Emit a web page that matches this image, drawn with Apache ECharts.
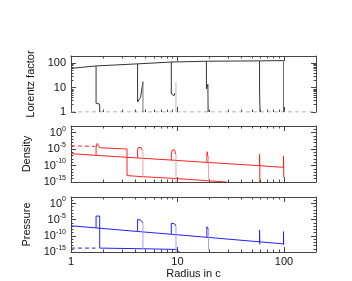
<!DOCTYPE html>
<html><head><meta charset="utf-8">
<script src="https://cdn.jsdelivr.net/npm/echarts@6/dist/echarts.min.js"></script>
<style>html,body{margin:0;padding:0;background:#fff}#c{width:352px;height:281px}</style>
</head><body><div id="c"></div>
<script>
// ---------- tick / label values ----------
const xMajorTicks = [1, 10, 100];
const xMinorTicks = [2,3,4,5,6,7,8,9,20,30,40,50,60,70,80,90,200];
const xLabels = [1, 10, 100];
const lorMajorTicks = [1, 10, 100];
const lorMinorTicks = [2,3,4,5,6,7,8,9,20,30,40,50,60,70,80,90,200];
const lorLabels = [1, 10, 100];
const expMajorTicks = [1e-15, 1e-10, 1e-5, 1];
const expMinorTicks = [1e-14,1e-13,1e-12,1e-11,1e-9,1e-8,1e-7,1e-6,1e-4,1e-3,1e-2,1e-1,10,100];
const expLabels = [1e-15, 1e-10, 1e-5, 1];

// ---------- Lorentz factor ----------
const lorTop    = [[1,62],[1.72,78],[4.22,95],[8.75,113],[18.9,122],[59,126],[99,130]];
const lorShell1 = [[1.72,78],[1.72,2.3],[1.86,2.1],[1.86,1]];
const lorShell2 = [[4.22,95],[4.22,2.6],[4.32,2.4],[4.5,4],[4.74,17.5]];
const lorShell2b= [[4.74,17.5],[4.74,1]];
const lorShell3 = [[8.75,113],[8.75,5.5],[9.3,4.7],[9.45,5.9]];
const lorShell3b= [[9.68,17.5],[9.68,1]];
const lorShell4 = [[18.7,122],[18.7,9],[19.3,13.8],[19.4,1]];
const lorShell5 = [[59,126],[59,8],[59.6,7],[59.6,1]];
const lorShell6 = [[99,130],[99,1]];
const lorFloor  = [[1,1],[200,1]];

// ---------- Density ----------
const denAmbient = [[1,4e-7],[1.72,1.26e-7],[4.22,2e-8],[8.75,4.5e-9],[18.9,9e-10],[59,9e-11],[99,2.8e-11]];
const denInitial = [[1,1e-4],[1.70,6.3e-5]];
const denShell1  = [[1.72,1.26e-7],[1.72,2.5e-5],[1.76,5e-4],[1.82,5e-4],[1.86,2.5e-5],[1.86,1.8e-5],[3.36,1e-5],[3.36,9e-14],[4.74,4e-14],[8.75,1.4e-14],[18.9,2.5e-15],[29,1e-15]];
const denShell2  = [[4.22,2e-8],[4.22,5e-6],[4.3,3.2e-5],[4.4,5e-5],[4.55,2.5e-5],[4.65,5e-6]];
const denShell2b = [[4.74,5e-6],[4.74,4e-14]];
const denShell3  = [[8.75,4.5e-9],[8.75,1.6e-7],[8.9,5e-6],[9.1,1e-5],[9.4,5e-6],[9.6,3e-7]];
const denShell3b = [[9.68,3e-7],[9.68,1e-15]];
const denShell4  = [[18.9,9e-10],[18.9,3.2e-8],[19.0,1.6e-6],[19.2,1e-7],[19.6,3.2e-8]];
const denShell4b = [[19.6,3.2e-8],[19.6,1e-15]];
const denShell5  = [[59,9e-11],[59,2.5e-7],[59.3,8e-11],[59.3,1e-15]];
const denShell6  = [[99,2.8e-11],[99,8e-8],[99.5,2.5e-11],[99.5,3e-14]];

// ---------- Pressure ----------
const preAmbient = [[1,1.26e-7],[1.72,2.8e-8],[4.22,2.2e-9],[8.75,3e-10],[18.9,3.5e-11],[59,1.4e-12],[99,3.2e-13]];
const preInitial = [[1,1.6e-14],[1.70,1.6e-14]];
const preShell1  = [[1.72,2.8e-8],[1.72,1.26e-4],[1.86,1.26e-4],[1.86,1.6e-14],[4.74,1e-14],[9.68,6.3e-15],[10.5,1e-15]];
const preShell2  = [[4.22,2.2e-9],[4.22,1.26e-5],[4.4,1.26e-5],[4.55,6e-6],[4.68,1.6e-6],[4.74,1e-6]];
const preShell2b = [[4.74,1e-6],[4.74,1e-14]];
const preShell3  = [[8.75,3e-10],[8.75,8e-7],[9.1,8e-7],[9.4,5e-7],[9.6,1.6e-7],[9.68,1e-7]];
const preShell3b = [[9.68,1e-7],[9.68,1e-15]];
const preShell4  = [[18.9,3.5e-11],[18.9,6.3e-8],[19.05,1.26e-7],[19.4,3.2e-8],[19.6,1e-8]];
const preShell4b = [[19.6,1e-8],[19.6,3e-15]];
const preShell5  = [[59,1.4e-12],[59,6.3e-9],[59.3,1.2e-12],[59.3,2e-13]];
const preShell6  = [[99,3.2e-13],[99,2e-9],[99.4,3e-13],[99.4,1.6e-13]];

// ---------- layout / style ----------
const FRAME = '#444';
const FONT = 'Liberation Sans, Arial, sans-serif';
const grids = [
  {left:71, top:56, width:245, height:56},
  {left:71, top:126, width:245, height:56},
  {left:71, top:197, width:245, height:55}
];
const yRanges = [[1,200],[1e-15,100],[1e-15,100]];
const yNames = ['Lorentz factor','Density','Pressure'];

function expFmt(v){
  const e = Math.round(Math.log10(v));
  return '{b|10}{s|' + e + '}';
}
const richExp = {
  b:{fontSize:11, fontFamily:FONT, color:'#111'},
  s:{fontSize:7, fontFamily:FONT, color:'#111', padding:[0,0,8,0]}
};

function mkAxis(dim, gi, pos, min, max, ticks, len, showLine, label){
  const a = {
    type:'log', logBase:10, gridIndex:gi, position:pos, min:min, max:max,
    splitLine:{show:false}, minorTick:{show:false}, minorSplitLine:{show:false},
    axisLine:{show:showLine, lineStyle:{color:FRAME, width:1}},
    axisTick:{show:true, inside:true, length:len, customValues:ticks, lineStyle:{color:FRAME, width:1}},
    axisLabel:{show:false}
  };
  if (label) Object.assign(a, label);
  return a;
}

const xAxes = [], yAxes = [];
for (let g = 0; g < 3; g++) {
  let xl = null;
  if (g === 2) {
    xl = {
      axisLabel:{show:true, customValues:xLabels, fontSize:11, fontFamily:FONT, color:'#111', margin:4,
                 formatter:v => String(Math.round(v))},
      name:'Radius in c', nameLocation:'middle', nameGap:16,
      nameTextStyle:{fontSize:11, fontFamily:FONT, color:'#111'}
    };
  }
  xAxes.push(mkAxis('x', g, 'bottom', 1, 200, xMajorTicks, 5, g !== 0, xl));
  xAxes.push(mkAxis('x', g, 'bottom', 1, 200, xMinorTicks, 2.5, false, null));
  xAxes.push(mkAxis('x', g, 'top', 1, 200, xMajorTicks, 5, true, null));
  xAxes.push(mkAxis('x', g, 'top', 1, 200, xMinorTicks, 2.5, false, null));

  const [mn, mx] = yRanges[g];
  const majors = g === 0 ? lorMajorTicks : expMajorTicks;
  const minors = g === 0 ? lorMinorTicks : expMinorTicks;
  const yl = {
    axisLabel: g === 0
      ? {show:true, customValues:lorLabels, fontSize:11, fontFamily:FONT, color:'#111', margin:5,
         formatter:v => String(Math.round(v))}
      : {show:true, customValues:expLabels, margin:5, formatter:expFmt, rich:richExp},
    name:yNames[g], nameLocation:'middle', nameGap:27, nameRotate:90,
    nameTextStyle:{fontSize:11, fontFamily:FONT, color:'#111'}
  };
  yAxes.push(mkAxis('y', g, 'left', mn, mx, majors, 5, true, yl));
  yAxes.push(mkAxis('y', g, 'left', mn, mx, minors, 2.5, false, null));
  yAxes.push(mkAxis('y', g, 'right', mn, mx, majors, 5, true, null));
  yAxes.push(mkAxis('y', g, 'right', mn, mx, minors, 2.5, false, null));
}

const series = [];
function seg(data, g, color, dashed){
  series.push({
    type:'line', xAxisIndex:g*4, yAxisIndex:g*4, data:data,
    showSymbol:false, symbol:'none', silent:true, animation:false, clip:true,
    lineStyle:{color:color, width:1, type: dashed ? [4,3] : 'solid'}
  });
}
const DARK = '#333', GREY = '#999', PALEG = '#bbb';
const RED = '#f22', PALER = '#f7a0a0';
const BLUE = '#22f', PALEB = '#a0a0ff';

seg(lorFloor, 0, GREY, true);
seg(lorTop, 0, DARK); seg(lorShell1, 0, DARK); seg(lorShell2, 0, DARK);
seg(lorShell2b, 0, '#777'); seg(lorShell3, 0, DARK); seg(lorShell3b, 0, PALEG);
seg(lorShell4, 0, DARK); seg(lorShell5, 0, DARK); seg(lorShell6, 0, '#666');

seg(denInitial, 1, RED, true);
seg(denAmbient, 1, RED); seg(denShell1, 1, RED); seg(denShell2, 1, RED);
seg(denShell2b, 1, PALER); seg(denShell3, 1, RED); seg(denShell3b, 1, PALER);
seg(denShell4, 1, RED); seg(denShell4b, 1, PALER); seg(denShell5, 1, RED); seg(denShell6, 1, RED);

seg(preInitial, 2, BLUE, true);
seg(preAmbient, 2, BLUE); seg(preShell1, 2, BLUE); seg(preShell2, 2, BLUE);
seg(preShell2b, 2, PALEB); seg(preShell3, 2, BLUE); seg(preShell3b, 2, PALEB);
seg(preShell4, 2, BLUE); seg(preShell4b, 2, PALEB); seg(preShell5, 2, BLUE); seg(preShell6, 2, BLUE);

const chart = echarts.init(document.getElementById('c'), null, {renderer:'canvas'});
chart.setOption({
  animation:false,
  backgroundColor:'#fff',
  grid:grids,
  xAxis:xAxes,
  yAxis:yAxes,
  series:series
});
</script></body></html>
